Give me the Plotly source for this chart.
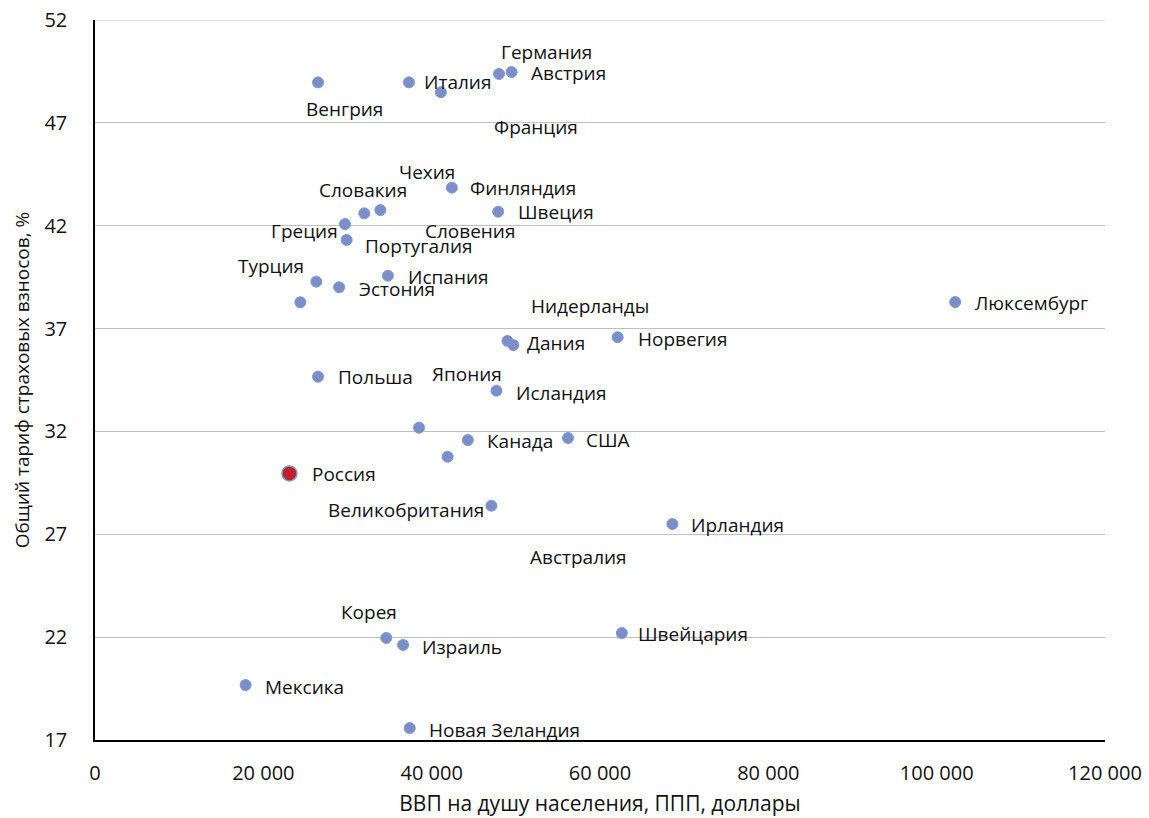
import plotly.graph_objects as go

# ---- data ----
countries = ["Венгрия", "Италия", "Франция", "Германия", "Австрия", "Финляндия", "Чехия",
             "Словакия", "Греция", "Швеция", "Португалия", "Испания", "Турция", "Эстония",
             "Словения", "Нидерланды", "Дания", "Норвегия", "Люксембург", "Польша", "Исландия",
             "Япония", "Канада", "США", "Австралия", "Великобритания", "Ирландия",
             "Корея", "Израиль", "Швейцария", "Мексика", "Новая Зеландия"]
gdp = [26500, 37300, 41100, 48000, 49500, 42400, 33900,
       32000, 29700, 47900, 29900, 34800, 26300, 29000,
       24400, 49000, 49700, 62100, 102200, 26500, 47700,
       38500, 44300, 56200, 41900, 47100, 68600,
       34600, 36600, 62600, 17900, 37400]
rate = [48.97, 48.97, 48.49, 49.38, 49.47, 43.85, 42.76,
        42.60, 42.08, 42.68, 41.31, 39.57, 39.28, 39.01,
        38.28, 36.40, 36.20, 36.58, 38.29, 34.66, 33.98,
        32.18, 31.58, 31.68, 30.77, 28.39, 27.50,
        21.96, 21.62, 22.20, 19.67, 17.58]

russia_name = ["Россия"]
russia_gdp = [23100]
russia_rate = [29.96]

# label anchor points (data coords) and alignment, as placed in the original chart
label_text = countries + russia_name
label_x = [29700, 38900, 52400, 53700, 51600, 44300, 39400,
           31900, 29100, 50000, 31900, 36900, 20900, 31100,
           44600, 58800, 51100, 64300, 104300, 28600, 49800,
           44200, 46300, 58100, 57400, 46500, 70600,
           32600, 38600, 64300, 20000, 39400, 25500]
label_y = [47.67, 48.99, 46.80, 50.46, 49.41, 43.83, 44.63,
           43.74, 41.74, 42.67, 41.01, 39.49, 40.06, 38.91,
           41.74, 38.10, 36.28, 36.49, 38.24, 34.63, 33.88,
           34.78, 31.52, 31.58, 25.90, 28.18, 27.45,
           23.22, 21.52, 22.15, 19.58, 17.49, 29.92]
label_anchor = ["center", "left", "center", "center", "left", "left", "center",
                "center", "right", "left", "left", "left", "center", "left",
                "center", "center", "left", "left", "left", "left", "left",
                "center", "left", "left", "center", "right", "left",
                "center", "left", "left", "left", "left", "left"]

x_ticks = [0, 20000, 40000, 60000, 80000, 100000, 120000]
x_tick_text = ["0", "20 000", "40 000", "60 000", "80 000", "100 000", "120 000"]
y_ticks = [17, 22, 27, 32, 37, 42, 47, 52]

label_font = "Open Sans"
axis_font = "Open Sans"

fig = go.Figure()
fig.add_trace(go.Scatter(
    x=gdp, y=rate, mode="markers", text=countries, hoverinfo="text",
    marker=dict(size=11, color="#7F8CC8", line=dict(color="#6E9FDB", width=1)),
    showlegend=False,
))
fig.add_trace(go.Scatter(
    x=russia_gdp, y=russia_rate, mode="markers", text=russia_name, hoverinfo="text",
    marker=dict(size=15, color="#C0202A", line=dict(color="#6E9FDB", width=1.5)),
    showlegend=False,
))

for t, lx, ly, a in zip(label_text, label_x, label_y, label_anchor):
    fig.add_annotation(x=lx, y=ly, text=t, showarrow=False, xanchor=a, yanchor="middle",
                       font=dict(family=label_font, size=19, color="#111111"))

# top gridline (at the upper end of the y range)
fig.add_shape(type="line", xref="paper", x0=0, x1=1, yref="y", y0=y_ticks[-1], y1=y_ticks[-1],
              line=dict(color="#BFBFBF", width=1), layer="below")

fig.update_layout(
    width=1149, height=818,
    margin=dict(l=95, r=44, t=20, b=78),
    paper_bgcolor="white", plot_bgcolor="white",
    xaxis=dict(
        range=[0, 120000], tickvals=x_ticks, ticktext=x_tick_text, automargin=False,
        showgrid=False, zeroline=False, showline=True, linecolor="#000000", linewidth=1.5,
        ticks="", ticklabelstandoff=14, ticklabeloverflow="allow",
        tickfont=dict(family=axis_font, size=20, color="#111111"),
        title=dict(text="ВВП на душу населения, ППП, доллары", standoff=12,
                   font=dict(family=axis_font, size=21, color="#111111")),
    ),
    yaxis=dict(
        range=[17, 52], tickvals=y_ticks, automargin=False,
        showgrid=True, gridcolor="#BFBFBF", gridwidth=1,
        zeroline=False, showline=True, linecolor="#000000", linewidth=1.5,
        ticks="", ticklabelstandoff=22, ticklabeloverflow="allow",
        tickfont=dict(family=axis_font, size=20, color="#111111"),
        title=dict(text="Общий тариф страховых взносов, %", standoff=10,
                   font=dict(family=axis_font, size=19, color="#111111")),
    ),
)

fig.write_html("out.html", config={"displayModeBar": False},
               post_script="document.body.style.margin='0px';")
